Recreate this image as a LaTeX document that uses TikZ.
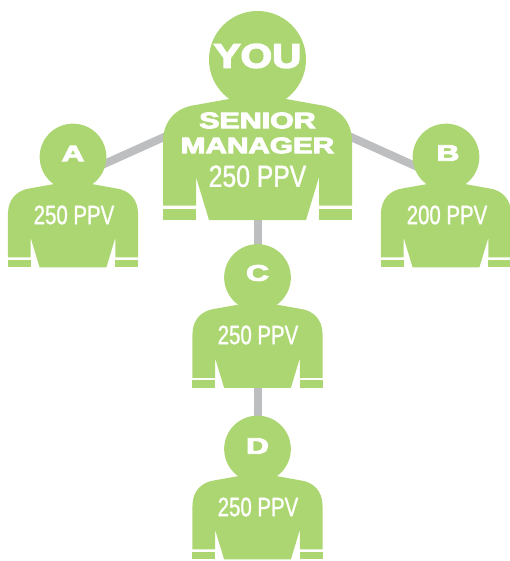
\documentclass[tikz,border=0pt]{standalone}
\usepackage{fontspec}
\setmainfont{Liberation Sans}[BoldFeatures={FakeBold=4}]
\newfontfamily\ppvfont{Liberation Sans}[FakeBold=1.2]
\usetikzlibrary{backgrounds}
\definecolor{figgreen}{HTML}{ACD672}
\definecolor{linkgray}{HTML}{BCBEC0}
\tikzset{
  headshape/.style={circle,fill=figgreen,draw=none,inner sep=0pt},
  label/.style={text=white,inner sep=0pt,align=center},
  link/.style={draw=linkgray,line width=8pt},
}
% #1 head-centre x, #2 head-centre y, #3 scale
\newcommand{\personbody}[3]{%
  \begin{scope}[shift={(#1,#2)},scale=#3]
    \fill[figgreen] (-20,38) -- (-62,45.5)
      .. controls (-82,48) and (-94.5,62) .. (-94.5,82)
      -- (-94.5,146) -- (-61.5,146) -- (-61.5,117.5) -- (-48.5,160.5)
      -- (48.5,160.5) -- (61.5,117.5) -- (61.5,146) -- (94.5,146) -- (94.5,82)
      .. controls (94.5,62) and (82,48) .. (62,45.5) -- (20,38) -- cycle;
    \fill[figgreen] (-94.5,149.5) rectangle (-61.5,160.5);
    \fill[figgreen] (61.5,149.5) rectangle (94.5,160.5);
  \end{scope}}
\newcommand{\widetext}[3]{\scalebox{#2}[1]{\fontsize{#1}{#1}\selectfont\bfseries #3}}
\newcommand{\ppvtext}[3]{\scalebox{#1}[1]{\fontsize{#2}{#2}\ppvfont\selectfont #3 PPV}}
\begin{document}
\begin{tikzpicture}[x=1pt,y=-1pt]
  \useasboundingbox (0,0) rectangle (509,561);
  % people
  \personbody{257.5}{59.5}{1}
  \personbody{73}{157}{0.688}
  \personbody{446}{157}{0.688}
  \personbody{257.5}{277.5}{0.688}
  \personbody{257.5}{449}{0.688}
  \node[headshape,minimum size=97pt] (you) at (257.5,59.5) {};
  \node[headshape,minimum size=66.7pt] (a) at (73,157) {};
  \node[headshape,minimum size=66.7pt] (b) at (446,157) {};
  \node[headshape,minimum size=66.7pt] (c) at (257.5,277.5) {};
  \node[headshape,minimum size=66.7pt] (d) at (257.5,449) {};
  % link ends hidden behind the figures
  \coordinate (hub) at (257.5,95);
  \coordinate (aend) at (73,178);
  \coordinate (bend) at (442,178);
  % labels
  \node[label] (youlabel) at (257.5,56) {\widetext{34pt}{1.19}{YOU}};
  \node[label] (senior) at (257.5,120.5) {\widetext{22.5pt}{1.35}{SENIOR}};
  \node[label] (manager) at (257.5,145.5) {\widetext{22.5pt}{1.32}{MANAGER}};
  \node[label] (youppv) at (257.5,176.3) {\ppvtext{0.81}{30.5pt}{250}};
  \node[label] (alabel) at (73,153.5) {\widetext{22.5pt}{1.4}{A}};
  \node[label] (appv) at (74,215) {\ppvtext{0.77}{26.5pt}{250}};
  \node[label] (blabel) at (448,153) {\widetext{22.5pt}{1.4}{B}};
  \node[label] (bppv) at (447,215) {\ppvtext{0.77}{26.5pt}{200}};
  \node[label] (clabel) at (257.5,273) {\widetext{22.5pt}{1.4}{C}};
  \node[label] (cppv) at (258,335) {\ppvtext{0.77}{26.5pt}{250}};
  \node[label] (dlabel) at (257.5,446) {\widetext{22.5pt}{1.4}{D}};
  \node[label] (dppv) at (258,507) {\ppvtext{0.77}{26.5pt}{250}};
  % connectors
  \begin{scope}[on background layer]
    \draw[link] (hub) -- (aend);
    \draw[link] (hub) -- (bend);
    \draw[link] (you.center) -- (c.center);
    \draw[link] (c.center) -- (d.center);
  \end{scope}
\end{tikzpicture}
\end{document}
